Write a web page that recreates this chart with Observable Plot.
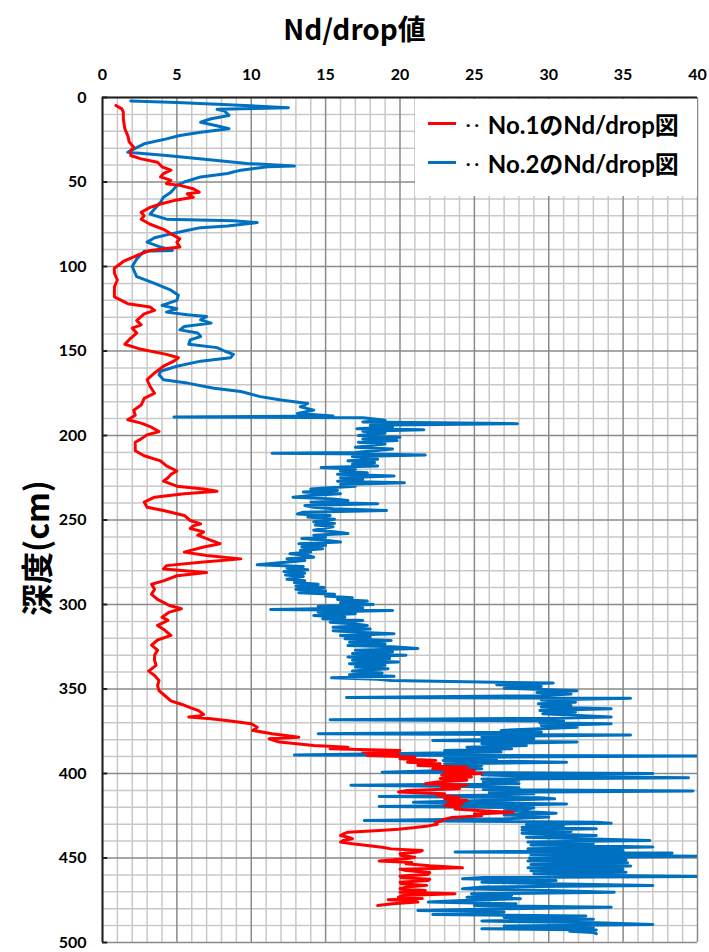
<!DOCTYPE html>
<html><head><meta charset="utf-8">
<script src="https://cdn.jsdelivr.net/npm/d3@7"></script>
<script src="https://cdn.jsdelivr.net/npm/@observablehq/plot@0.6"></script>
<style>
body{margin:0;background:#fff;font-family:Lato,"Noto Sans CJK JP",sans-serif;}
#wrap{position:relative;width:709px;height:952px;}
#title{height:50px;line-height:56px;text-align:center;font-size:28px;font-weight:bold;font-family:"Noto Sans CJK JP",Lato,sans-serif;color:#000;}
#ylab{position:absolute;left:35px;top:548px;transform:translate(-50%,-50%) rotate(-90deg);font-size:32px;font-weight:bold;font-family:"Noto Sans CJK JP",sans-serif;white-space:nowrap;color:#000;}
#legend{position:absolute;left:415px;top:99px;width:282px;height:97px;background:#fff;}
.row{position:absolute;left:0;height:30px;display:flex;align-items:center;font-size:24px;font-weight:bold;font-family:Lato,"Noto Sans CJK JP",sans-serif;color:#000;white-space:nowrap;}
.sw{display:inline-block;width:28px;height:3px;margin-left:13px;margin-right:10px;}
.dots{margin-right:5px;letter-spacing:4px;font-size:16px;}
</style></head>
<body><div id="wrap">
<div id="title">Nd/drop値</div>
<div id="chart"></div>
<div id="ylab">深度(cm)</div>
<div id="legend"></div>
</div>
<script>
// ---- data ----
const xTicks = [0,5,10,15,20,25,30,35,40];
const yTicks = [0,50,100,150,200,250,300,350,400,450,500];
const xMinor = d3.range(0,41,1);
const yMinor = d3.range(0,501,10);
const seriesNames = ["No.1のNd/drop図","No.2のNd/drop図"];
const seriesColors = ["#ff0000","#0070c0"];

// [depth (cm), Nd/drop]
const redPoints = [[4.7,0.9],[6.7,1.3],[8.7,1.4],[12.6,1.4],[18.5,1.5],[22.5,1.7],[26.4,1.8],[29.4,2.1],[31.4,1.9],[34.3,1.9],[36.3,2.6],[38.3,3.7],[41,4.0],[43,4.6],[45,4.1],[47,3.9],[49,4.6],[51,4.3],[52,5.2],[54,6.1],[56,6.5],[57,5.7],[59,6.1],[61,4.8],[63,3.9],[65,3.2],[68,2.6],[70,2.8],[72,2.6],[75,3.2],[78,4.1],[80.7,4.6],[83.6,5.2],[85.6,5.0],[88.5,5.2],[90.5,3.2],[93.5,2.3],[97,1.4],[101,0.8],
[104,0.8],[108,1.0],[112,0.8],[118,0.8],[122,1.7],[124,3.2],[126,3.5],[128,2.8],[132,2.3],[134.5,2.6],[136.5,2.0],[139.4,2.3],[142.4,1.9],[146,1.5],[149,2.6],[152,4.3],[154,5.1],[156,4.8],[159,4.1],[163,3.5],[167,3.0],[171,3.2],[175,3.5],[178,2.8],[182,2.6],[185,2.1],[188,2.2],[190.7,1.7],[192.7,2.6],[194.7,3.2],[197.6,3.8],[199.6,3.0],
[202,2.6],[204,2.2],[209,2.2],[212,2.8],[215,3.9],[218,4.3],[221,5.0],[223,4.6],[225,4.4],[227,4.1],[230,5.0],[231.6,6.8],[233,7.7],[234.5,5.5],[236.5,3.5],[239.4,2.8],[242.4,3.0],[244.4,4.1],[247.3,5.5],[250.3,5.9],[252.3,6.6],[253.5,6.1],[255,5.9],[257,6.8],[259,6.4],[262,7.3],[264,7.9],[266,6.8],[269,5.5],[271,7.0],[273,9.3],[275,6.6],[277,4.3],[279,4.1],[281,7.0],[283,5.0],[286,4.1],[288,3.3],[291,3.5],[294,3.3],[297,3.7],
[300.6,4.5],[302.5,5.3],[304.5,4.5],[307.5,4.0],[309.4,4.4],[312.4,3.7],[315.3,4.2],[318.3,4.6],[321,3.7],[324,3.3],[327,3.7],[330,3.5],[333,3.5],[336,3.6],[339.4,3.1],[342,3.5],[345,3.8],[348,3.7],[351,3.8],[354,4.2],[357,4.6],[359,5.3],[361,5.9],[363,6.5],[365,6.8],[366,6.5],[366.6,5.8],[367.6,7.3],[369,8.6],[370.6,10.0],[372.6,10.4],[374.5,10.1],[376.5,11.4],[378.5,13.2],[379.5,11.2],[381.4,11.9],
[383.4,14.2],[384.4,16.5],[385.4,15.3],[386.4,20.0],[387.3,17.5],[388.3,19.9],[389.3,17.8],[390.3,21.0],[391.3,20.0],[392.3,22.4],[393.3,20.5],[394.3,22.7],[395.2,21.2],[396.2,24.5],[397.2,22.2],[398.2,25.0],[399.2,23.0],[400,25.5],[401,22.8],[402,24.8],[403,22.7],[404,24.5],[405,22.5],[406,21.7],[407,24.5],[408,22.8],[409,24.0],[410,20.5],[411,19.9],[412,23.0],[413,22.5],[414,24.0],[415,23.0],[416,24.5],[417,23.2],[418,24.2],[419,23.0],[420,24.0],[421,23.7],[422,25.5],[423,27.6],[424,25.0],[425,25.5],[426,23.5],[427,23.0],[428,22.8],[429,22.4],[430,22.5],[431,21.9],[432,21.0],[433,19.9],[433.7,18.6],[434.7,16.5],[435.7,16.2],[436.7,16.0],[437.7,16.5],[438.6,16.8],[439.6,16.2],[440.6,16.0],[441.6,16.8],[442.6,17.8],[443.6,18.8],[444.6,19.4],[445.6,21.5],[446.5,21.2],[447.5,20.0],[448.5,20.1],[449.5,21.0],[450.5,20.4],[451.8,18.6],[452.6,20.8],[453.4,20.4],[454.6,22.0],[455.8,24.2],[456.6,20.0],[457.4,20.4],[458.6,22.0],[459.7,21.9],[460.7,20.0],[461.7,20.1],[462.5,22.0],[463.3,21.9],[464.3,20.0],[465.3,20.1],[466.2,21.8],[467.2,20.4],[468.2,20.0],[469.2,21.7],[470.2,20.0],[471.2,23.7],[472.2,20.2],[473.2,19.9],[474,21.5],[474.7,19.2],[475.4,21.0],[476.1,21.2],[477.1,19.5],[478.1,18.5]];

const bluePoints = [[2,1.9],[3,5.0],[4,7.7],[6,12.5],[7,7.7],[8,8.2],[10.6,8.5],[12.6,7.3],[14.6,6.6],[16.6,7.6],[18.5,8.5],[20.5,6.6],[22.5,5.2],[24.5,4.3],[27.4,2.8],[31.4,1.9],[32.4,1.7],[34.3,4.3],[37.3,7.7],[39,9.7],[40.6,12.9],[41,11.1],[43,9.3],[45,8.4],[47,6.6],[50,5.5],[52,5.0],[56,4.6],[59,4.1],[62,3.9],[66,3.5],[69,3.2],[72,4.3],[73,8.8],[74,10.4],[76,8.4],[77,6.6],[79,5.5],[80.7,4.6],[83,3.5],[85.6,3.0],[88.5,3.9],[90.5,4.7],[91,2.8],[95.5,2.3],[100,2.0],
[106,2.3],[110,3.5],[114,4.6],[117,5.1],[120,5.0],[123,4.0],[125,5.0],[127,4.3],[128.6,5.7],[129.6,7.0],[131.6,6.6],[133.5,7.3],[135.5,5.5],[137.5,5.2],[139.4,6.4],[141.4,6.6],[143.4,5.9],[146,5.8],[148,7.7],[150,8.2],[152,8.8],[154,8.6],[156,6.6],[159,5.0],[162,3.9],[164,3.8],[167,4.1],[169,5.7],[172,7.5],[174,9.3],[177,10.6],[179,12.0],[181,13.8],[183,13.3],[185,14.2],[187,13.1],
[188.5,15.5],[189,4.8],[189.5,17.5],[191,19.0],[192,17.5],[193,27.9],[194,18.0],[195,19.5],[196,17.1],[196.6,21.6],[197.5,17.5],[198.6,19.0],[200,17.2],[201,20.0],[202,17.5],[203,19.8],[204,17.2],[205,19.0],[207,17.0],[208,19.5],[210,17.0],[210.5,11.4],[211,18.0],[211.5,21.7],[212.5,16.8],[214,18.5],[215,16.5],[216,18.3],[217,16.8],[218,18.5],[219,14.7],[220,17.0],[221,16.0],[222,17.8],[223,15.8],[224,19.6],[225,16.0],[226,17.5],[227,15.8],[228,20.3],[229,16.0],[230,17.0],[231,15.0],[231.6,14.0],[232.5,15.8],[233.5,13.5],[234.5,16.0],[235.5,14.0],[236.5,12.8],[237.5,15.5],[238.5,16.5],[239.5,14.0],[240.4,18.5],[241.4,13.6],[242.4,14.2],[243.4,15.5],[244.4,19.1],[245.4,13.5],[246.4,13.1],[247.4,15.3],[248.3,13.8],[249.5,15.6],[251,14.2],[252,15.6],[253,14.3],[254,15.5],[256,14.2],[257,15.6],[258,16.5],[259,14.2],[260,15.0],[261,13.4],[262,15.0],[263,16.0],[264,13.2],[265,15.0],[266,13.4],[267,14.8],[268,13.3],[269,14.0],[270,12.6],[271,13.8],[272,14.2],[273,12.4],[274,13.6],[275,12.3],[276.5,10.4],[277.5,13.5],[278.5,12.4],[279.5,13.8],[280.5,12.2],[281.5,13.6],[282.5,12.3],[283.5,13.5],[285,12.4],[286,13.6],[287,12.9],[288,14.5],[289,13.0],[290,14.9],[291,13.0],[292,15.0],[293,13.2],[294,15.6],[295,15.0],[296,16.8],[297,15.8],[298,17.8],[299,16.0],[300,18.2],
[301,14.5],[302,17.5],[303,11.3],[303.5,19.5],[304.5,14.5],[305.5,17.0],[306.5,14.2],[307.5,16.3],[308.5,14.8],[309.5,17.5],[310.5,15.3],[311.5,17.0],[312.4,17.8],[313.5,15.5],[314.5,18.0],[315.5,15.5],[316.5,17.5],[317.3,19.6],[318.3,16.0],[319.3,18.0],[320.3,16.3],[321.3,19.4],[322.3,16.6],[323.3,19.0],[324.3,16.5],[325,19.5],[326,21.2],[327,17.0],[328,19.5],[329,16.8],[330,20.4],[331,16.5],[332,19.3],[333,16.8],[334,19.9],[335,16.6],[336,19.0],[337,17.0],[338,19.2],[339.4,16.8],[340.5,18.8],[341.5,16.6],[342.5,19.6],[343.4,15.4],[344.2,18.5],[345,19.4],[346.5,30.3],[347.5,26.5],[348.5,29.5],[349.5,27.0],[351,31.9],[352,29.2],[353,31.5],[354,29.5],[355,16.4],[355.5,35.5],[356.5,29.5],[357.8,31.8],[358.8,29.3],[359.7,31.5],[360.7,29.5],[361.7,34.2],[362.7,29.4],[363.7,31.8],[364.7,29.6],[365.7,32.0],[366.6,34.2],[367.4,29.5],[368.2,15.3],[369,31.0],[370,29.4],[370.6,34.2],[371.6,29.5],[372.6,31.9],[373.6,29.0],[374.5,26.8],[375.5,29.5],[376.5,14.5],[377.2,35.5],[378.2,25.5],[379.5,29.0],[380.5,22.2],[381.4,31.9],[382.4,25.5],[383.4,28.5],[384.4,24.5],[385.4,27.5],[386.4,23.0],[387.3,26.8],[388.2,20.0],[389,12.9],[389.6,40],[390.5,23.0],[391.3,26.5],[392.3,22.9],[393.3,31.2],[394.3,23.0],[395.2,25.5],[396.2,23.5],[397.2,25.5],[398.2,23.2],[399.2,18.8],
[400,37.0],[400.8,25.5],[401.5,28.0],[402.5,39.4],[403.3,25.5],[404,28.0],[405,25.6],[406,28.0],[407,16.7],[407.8,25.5],[408.5,28.0],[409.5,25.6],[410.4,39.7],[411.2,26.0],[412,29.0],[412.8,25.5],[413.6,18.6],[414.4,29.4],[415,30.4],[416,25.6],[417,20.9],[418,31.2],[418.8,26.0],[419.5,18.6],[420.3,29.0],[421,28.6],[422,27.0],[423.5,30.5],[424.5,27.0],[425.8,30.0],[426.8,27.0],[427.8,17.6],[428.8,33.2],[429.5,34.2],[430.2,28.5],[430.8,31.0],[431.8,28.2],[432.7,33.2],[433.5,28.2],[434.3,31.5],[435.3,28.2],[436.7,33.2],[437.7,28.5],[438.7,33.0],[439.6,36.8],[440.6,28.6],[441.4,33.0],[442.3,28.8],[443.5,37.0],[444.5,28.6],[445.5,35.0],[446.5,23.7],[447,38.3],[448,28.8],[449,40],[450,28.7],[451,35.2],[451.8,28.6],[452.8,35.3],[453.8,28.8],[454.8,35.5],[455.8,28.6],[456.6,35.0],[457.5,28.8],[458.4,35.2],[459.3,29.0],[460.2,33.0],[460.9,40],[461.6,25.6],[462.3,24.2],[463.3,30.5],[464.3,25.5],[465.2,30.0],[466.2,37.0],[467.2,25.6],[468.2,24.2],[469.2,30.0],[470.2,34.4],[471.2,24.8],[472.2,27.5],[473.2,24.5],[474.1,28.1],[475,24.6],[476.1,21.9],[477.1,27.8],[478.1,25.0],[479.1,34.2],[480,27.0],[481,21.2],[482,27.0],[483.4,22.2],[484.3,32.5],[485.2,27.0],[486.2,33.0],[487.3,25.5],[488.3,33.2],[489.3,37.0],[490.3,27.0],[491.2,33.0],[491.9,25.5],[492.6,33.2],[493.3,31.4],[494.1,33.0],[494.8,33.2]];

const red = redPoints.map(([depth, value]) => ({depth, value}));
const blue = bluePoints.map(([depth, value]) => ({depth, value}));
const yMinorOnly = yMinor.filter(v => v % 50 !== 0);
const xMinorOnly = xMinor.filter(v => v % 5 !== 0);

const chart = Plot.plot({
  width: 709, height: 902,
  marginTop: 47, marginBottom: 10, marginLeft: 102, marginRight: 12,
  style: {fontFamily: 'Lato, "Noto Sans CJK JP", sans-serif', fontSize: "16px", fontWeight: "bold", color: "#000", background: "#fff"},
  x: {domain: [0, 40]},
  y: {domain: [0, 500], reverse: true},
  marks: [
    Plot.ruleX(xMinorOnly, {stroke: "#c8c8c8", strokeWidth: 1.5}),
    Plot.ruleY(yMinorOnly, {stroke: "#c8c8c8", strokeWidth: 1.5}),
    Plot.ruleX(xTicks, {stroke: "#8a8a8a", strokeWidth: 1.5}),
    Plot.ruleY(yTicks, {stroke: "#8a8a8a", strokeWidth: 1.5}),
    Plot.ruleX([0], {stroke: "#222", strokeWidth: 2}),
    Plot.ruleY([0], {stroke: "#222", strokeWidth: 2}),
    Plot.ruleY(yTicks, {x1: 0, x2: 0.35, stroke: "#222", strokeWidth: 2}),
    Plot.line(blue, {x: "value", y: "depth", stroke: seriesColors[1], strokeWidth: 3, clip: true}),
    Plot.line(red, {x: "value", y: "depth", stroke: seriesColors[0], strokeWidth: 3, clip: true}),
    Plot.axisX({anchor: "top", ticks: xTicks, tickSize: 0, tickPadding: 18, label: null, fontSize: 16}),
    Plot.axisY({anchor: "left", ticks: yTicks, tickSize: 0, tickPadding: 16, label: null, fontSize: 16})
  ]
});
document.getElementById("chart").appendChild(chart);

const leg = document.getElementById("legend");
seriesNames.forEach((n,i)=>{
  const r = document.createElement("div");
  r.className = "row";
  r.style.top = (i === 0 ? 9 : 48) + "px";
  r.innerHTML = `<span class="sw" style="background:${seriesColors[i]}"></span><span class="dots">··</span><span>${n}</span>`;
  leg.appendChild(r);
});
</script>
</body></html>
